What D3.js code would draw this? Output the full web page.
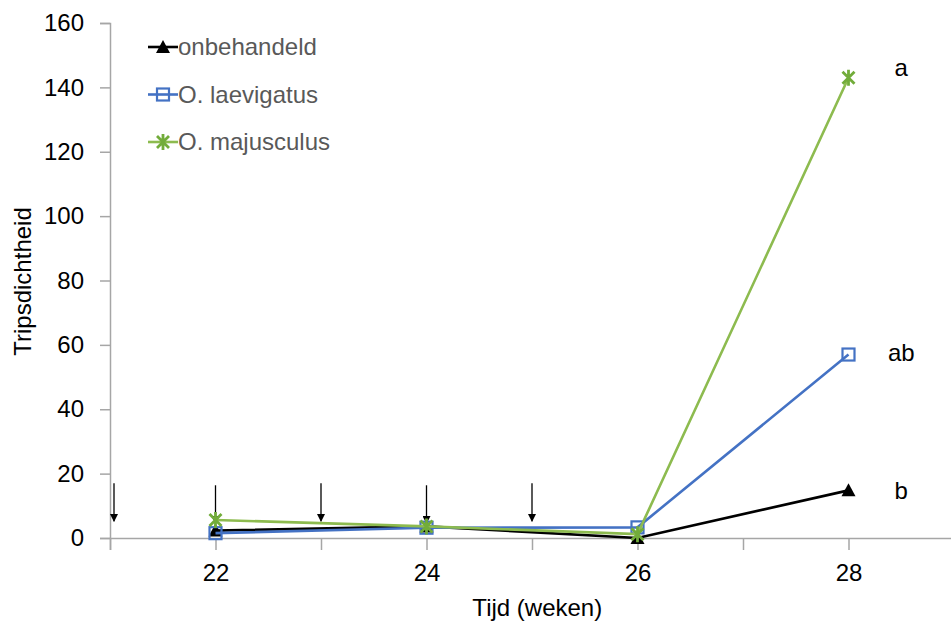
<!DOCTYPE html>
<html>
<head>
<meta charset="utf-8">
<script src="https://cdn.jsdelivr.net/npm/d3@7"></script>
<style>
  body { margin: 0; background: #fff; }
  svg text { font-family: "Liberation Sans", Arial, sans-serif; }
</style>
</head>
<body>
<div id="chart"></div>
<script>
var weeks = [22, 24, 26, 28];
var onbehandeld = [2.3, 3.6, 0, 14.8];
var laevigatus = [1.5, 3.2, 3.3, 57];
var majusculus = [5.6, 3.6, 1.2, 143];
var seriesNames = ["onbehandeld", "O. laevigatus", "O. majusculus"];
var letters = ["b", "ab", "a"];
var letterLevels = [14.5, 57.5, 146];
var arrowWeeks = [21, 22, 23, 24, 25];
var yTicks = [0, 20, 40, 60, 80, 100, 120, 140, 160];
var xTicks = [21, 22, 23, 24, 25, 26, 27, 28];
var xLabels = [22, 24, 26, 28];

var width = 951, height = 626;
var margin = { top: 23, right: 0, bottom: 88, left: 110 };
var fontSize = 24;

var x = d3.scaleLinear().domain([21, 29]).range([margin.left, 954]);
var y = d3.scaleLinear().domain([0, 160]).range([height - margin.bottom, margin.top]);

var svg = d3.select("#chart").append("svg")
  .attr("width", width)
  .attr("height", height);

var axisColor = "#a6a6a6";

// y axis
var yAxis = svg.append("g")
  .attr("transform", "translate(" + margin.left + ",0)")
  .call(d3.axisLeft(y).tickValues(yTicks).tickSize(10).tickPadding(16));
yAxis.select(".domain").attr("stroke", axisColor).attr("stroke-width", 1.5);
yAxis.selectAll(".tick line").attr("stroke", axisColor).attr("stroke-width", 1.5);
yAxis.selectAll(".tick text").attr("font-size", fontSize).attr("fill", "#000");

// x axis
var xAxis = svg.append("g")
  .attr("transform", "translate(0," + y(0) + ")")
  .call(d3.axisBottom(x).tickValues(xTicks).tickSize(12).tickPadding(14)
    .tickFormat(function(d) { return xLabels.indexOf(d) >= 0 ? d : ""; }));
xAxis.select(".domain").attr("stroke", axisColor).attr("stroke-width", 1.5);
xAxis.selectAll(".tick line").attr("stroke", axisColor).attr("stroke-width", 1.5);
xAxis.selectAll(".tick text").attr("font-size", fontSize).attr("fill", "#000");

// axis titles
svg.append("text")
  .attr("transform", "translate(31," + (y(80) + 1) + ") rotate(-90)")
  .attr("text-anchor", "middle")
  .attr("font-size", fontSize)
  .text("Tripsdichtheid");

svg.append("text")
  .attr("x", x(25.05))
  .attr("y", 616)
  .attr("text-anchor", "middle")
  .attr("font-size", fontSize)
  .text("Tijd (weken)");

// arrows
svg.append("defs").append("marker")
  .attr("id", "arrowhead")
  .attr("viewBox", "0 0 10 10")
  .attr("refX", 9).attr("refY", 5)
  .attr("markerWidth", 9).attr("markerHeight", 8)
  .attr("markerUnits", "userSpaceOnUse")
  .attr("orient", "auto")
  .append("path")
  .attr("d", "M0,0 L10,5 L0,10 Z")
  .attr("fill", "#000");

svg.selectAll(".arrow")
  .data(arrowWeeks)
  .enter().append("line")
  .attr("class", "arrow")
  .attr("x1", function(d, i) { return x(d) + (i === 0 ? 4 : 0); })
  .attr("x2", function(d, i) { return x(d) + (i === 0 ? 4 : 0); })
  .attr("y1", function(d, i) { return y(17) + (i % 2 === 0 ? 0 : 2); })
  .attr("y2", function(d, i) { return y(5.2) + (i % 2 === 0 ? 0 : 2); })
  .attr("stroke", "#000")
  .attr("stroke-width", 1.3)
  .attr("marker-end", "url(#arrowhead)");

var series = [
  { name: seriesNames[0], values: onbehandeld, line: "#000000", marker: "triangle", mcolor: "#000000" },
  { name: seriesNames[1], values: laevigatus, line: "#4472C4", marker: "square", mcolor: "#4472C4" },
  { name: seriesNames[2], values: majusculus, line: "#8DBB4F", marker: "star", mcolor: "#72AC3A" }
];

var line = d3.line()
  .x(function(d, i) { return x(weeks[i]); })
  .y(function(d) { return y(d); });

function drawMarker(g, type, color, cx, cy) {
  if (type === "triangle") {
    g.append("path")
      .attr("d", "M" + cx + "," + (cy - 7) + " L" + (cx + 7) + "," + (cy + 6) + " L" + (cx - 7) + "," + (cy + 6) + " Z")
      .attr("fill", color);
  } else if (type === "square") {
    g.append("rect")
      .attr("x", cx - 6).attr("y", cy - 6)
      .attr("width", 12).attr("height", 12)
      .attr("fill", "none")
      .attr("stroke", color)
      .attr("stroke-width", 2.2);
  } else {
    var r = 6;
    g.append("path")
      .attr("d", "M" + (cx - r) + "," + (cy - r) + " L" + (cx + r) + "," + (cy + r) +
        " M" + (cx + r) + "," + (cy - r) + " L" + (cx - r) + "," + (cy + r) +
        " M" + cx + "," + (cy - r - 2) + " L" + cx + "," + (cy + r + 2))
      .attr("stroke", color)
      .attr("stroke-width", 2.8)
      .attr("fill", "none");
  }
}

series.forEach(function(s) {
  var g = svg.append("g");
  g.append("path")
    .datum(s.values)
    .attr("d", line)
    .attr("fill", "none")
    .attr("stroke", s.line)
    .attr("stroke-width", 2.6);
  s.values.forEach(function(v, i) {
    drawMarker(g, s.marker, s.mcolor, x(weeks[i]), y(v));
  });
});

// significance letters
svg.selectAll(".letter")
  .data(letters)
  .enter().append("text")
  .attr("class", "letter")
  .attr("x", x(28.5))
  .attr("y", function(d, i) { return y(letterLevels[i]) + 8; })
  .attr("text-anchor", "middle")
  .attr("font-size", fontSize)
  .text(function(d) { return d; });

// legend
var legend = svg.append("g").attr("transform", "translate(148,47)");
series.forEach(function(s, i) {
  var row = legend.append("g").attr("transform", "translate(0," + (i * 47.5) + ")");
  row.append("line")
    .attr("x1", 0).attr("x2", 30)
    .attr("y1", 0).attr("y2", 0)
    .attr("stroke", s.line)
    .attr("stroke-width", 2.6);
  drawMarker(row, s.marker, s.mcolor, 15, 0);
  row.append("text")
    .attr("x", 30)
    .attr("y", 8)
    .attr("font-size", fontSize)
    .attr("fill", "#595959")
    .text(s.name);
});
</script>
</body>
</html>
